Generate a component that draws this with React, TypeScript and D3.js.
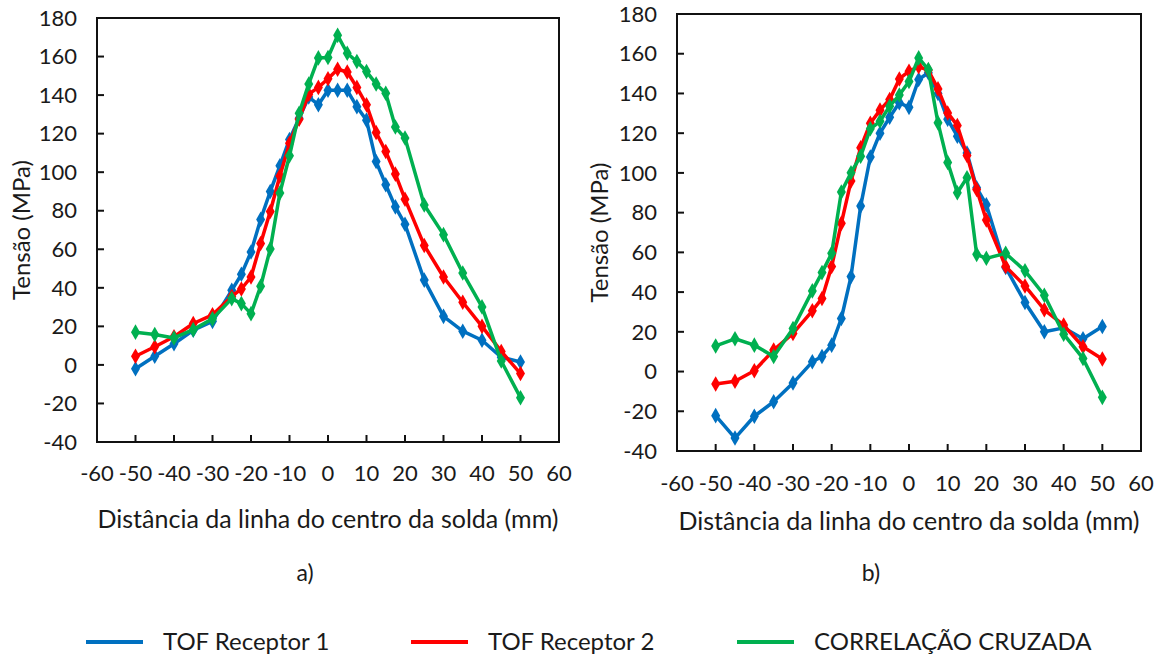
import React from "react";
import * as d3 from "d3";

// posições (mm) comuns às duas medições
const posicoes = [
  -50, -45, -40, -35, -30, -25, -22.5, -20, -17.5, -15, -12.5, -10, -7.5, -5, -2.5,
  0, 2.5, 5, 7.5, 10, 12.5, 15, 17.5, 20, 25, 30, 35, 40, 45, 50,
];

// a)
const tofR1A = [
  -2, 4.5, 11, 18, 22.6, 38.7, 47, 58.6, 75.5, 90, 103.3, 117, 128, 139, 135,
  142.5, 142.5, 142.5, 134, 127, 105.5, 93.5, 82, 73, 44, 25.2, 17.5, 12.8, 4, 1.5,
];
const tofR2A = [
  4.5, 9.4, 14.6, 21.5, 26, 35.5, 39.4, 45.6, 63, 79.6, 98, 115, 127.5, 140.5, 144,
  148.5, 153.4, 152, 144, 135, 120.6, 110.7, 99, 86, 62, 45.6, 32.5, 20, 7, -4.5,
];
const corrA = [
  17, 15.8, 14, 18.3, 23.9, 34.4, 31.8, 26.6, 40.8, 60.2, 89.2, 108.5, 130.6, 145.8, 159.3,
  159.5, 171, 161.7, 157.4, 152.2, 145.8, 141, 123.4, 117.7, 83, 67.6, 47.7, 30.1, 2, -17,
];

// b)
const tofR1B = [
  -22.2, -33.5, -22.5, -15.2, -5.8, 4.9, 7.6, 13.3, 26.7, 47.8, 83.3, 108, 120, 128, 135.3,
  133, 147, 150.4, 140, 127, 118.5, 110, 92.5, 84, 52.4, 34.8, 20, 22, 16.5, 22.7,
];
const tofR2B = [
  -6.3, -4.9, 0.4, 10.8, 19.2, 30.6, 36.8, 52.9, 74.6, 95.9, 112.7, 125, 131.6, 137, 147.3,
  151.2, 153.4, 151.7, 142.3, 130.2, 123.9, 108.8, 91.7, 76.3, 52.9, 43.1, 31.1, 23.4, 12.5, 6.3,
];
const corrB = [
  12.9, 16.5, 13.3, 7.6, 21.7, 40.6, 49.8, 59.5, 90.4, 100.1, 108.4, 122.2, 126, 133.6, 139.2,
  146, 157.9, 152, 125.2, 105.3, 90, 97.6, 59, 57, 59.5, 50.7, 38.4, 18.8, 6.6, -13,
];

const xTicks = [-60, -50, -40, -30, -20, -10, 0, 10, 20, 30, 40, 50, 60];
const yTicks = [-40, -20, 0, 20, 40, 60, 80, 100, 120, 140, 160, 180];

const seriesNames = ["TOF Receptor 1", "TOF Receptor 2", "CORRELAÇÃO CRUZADA"];
const colors = ["#0070C0", "#FF0000", "#00B050"];

const font = "Lato, 'Noto Sans', sans-serif";
const textColor = "#1a1a1a";

type Box = { x0: number; x1: number; y0: number; y1: number };

function Painel({
  box,
  series,
  tickGap,
  titleGap,
  yTitleX,
  letraX,
  letra,
}: {
  box: Box;
  series: number[][];
  tickGap: number;
  titleGap: number;
  yTitleX: number;
  letraX: number;
  letra: string;
}) {
  const x = d3.scaleLinear().domain([-60, 60]).range([box.x0, box.x1]);
  const y = d3.scaleLinear().domain([-40, 180]).range([box.y1, box.y0]);
  const line = d3
    .line<number>()
    .x((_, i) => x(posicoes[i]))
    .y((d) => y(d));
  const diamond = d3.symbol(d3.symbolDiamond, 70)() as string;
  const midY = (box.y0 + box.y1) / 2;
  const midX = (box.x0 + box.x1) / 2;

  return (
    <g>
      {series.map((s, k) => (
        <g key={k}>
          <path d={line(s) ?? ""} fill="none" stroke={colors[k]} strokeWidth={3.5} strokeLinejoin="round" />
          {s.map((v, i) => (
            <path
              key={i}
              d={diamond}
              transform={`translate(${x(posicoes[i])},${y(v)})`}
              fill={colors[k]}
            />
          ))}
        </g>
      ))}
      <rect
        x={box.x0}
        y={box.y0}
        width={box.x1 - box.x0}
        height={box.y1 - box.y0}
        fill="none"
        stroke="#111"
        strokeWidth={2}
      />
      {yTicks.map((t) => (
        <g key={t}>
          <line x1={box.x0} x2={box.x0 + 7} y1={y(t)} y2={y(t)} stroke="#111" strokeWidth={2} />
          <text
            x={box.x0 - 20}
            y={y(t)}
            dy="0.35em"
            textAnchor="end"
            fontSize={22}
            fontFamily={font}
            fill={textColor}
          >
            {t}
          </text>
        </g>
      ))}
      {xTicks.map((t) => (
        <g key={t}>
          <line x1={x(t)} x2={x(t)} y1={box.y1} y2={box.y1 - 7} stroke="#111" strokeWidth={2} />
          <text
            x={x(t)}
            y={box.y1 + tickGap}
            dy="0.35em"
            textAnchor="middle"
            fontSize={22}
            fontFamily={font}
            fill={textColor}
          >
            {t}
          </text>
        </g>
      ))}
      <text
        x={midX}
        y={box.y1 + titleGap}
        dy="0.35em"
        textAnchor="middle"
        fontSize={25}
        fontFamily={font}
        fill={textColor}
      >
        Distância da linha do centro da solda (mm)
      </text>
      <text
        transform={`translate(${yTitleX},${midY}) rotate(-90)`}
        dy="0.35em"
        textAnchor="middle"
        fontSize={24}
        fontFamily={font}
        fill={textColor}
      >
        Tensão (MPa)
      </text>
      <text
        x={letraX}
        y={573}
        dy="0.35em"
        textAnchor="middle"
        fontSize={23}
        fontFamily={font}
        fill={textColor}
      >
        {letra}
      </text>
    </g>
  );
}

const legendX = [86, 411, 737];

export default function App() {
  return (
    <svg
      width={1161}
      height={659}
      style={{ position: "absolute", left: 0, top: 0, background: "#fff" }}
    >
      <Painel
        box={{ x0: 97, x1: 559, y0: 18, y1: 442 }}
        series={[tofR1A, tofR2A, corrA]}
        tickGap={31}
        titleGap={77}
        yTitleX={22}
        letraX={305}
        letra="a)"
      />
      <Painel
        box={{ x0: 677, x1: 1141, y0: 14, y1: 451 }}
        series={[tofR1B, tofR2B, corrB]}
        tickGap={32}
        titleGap={70}
        yTitleX={600}
        letraX={871}
        letra="b)"
      />
      {seriesNames.map((n, k) => (
        <g key={n}>
          <line
            x1={legendX[k]}
            x2={legendX[k] + 57}
            y1={642}
            y2={642}
            stroke={colors[k]}
            strokeWidth={4}
          />
          <text
            x={legendX[k] + 77}
            y={642}
            dy="0.35em"
            fontSize={24}
            fontFamily={font}
            fill={textColor}
          >
            {n}
          </text>
        </g>
      ))}
    </svg>
  );
}
